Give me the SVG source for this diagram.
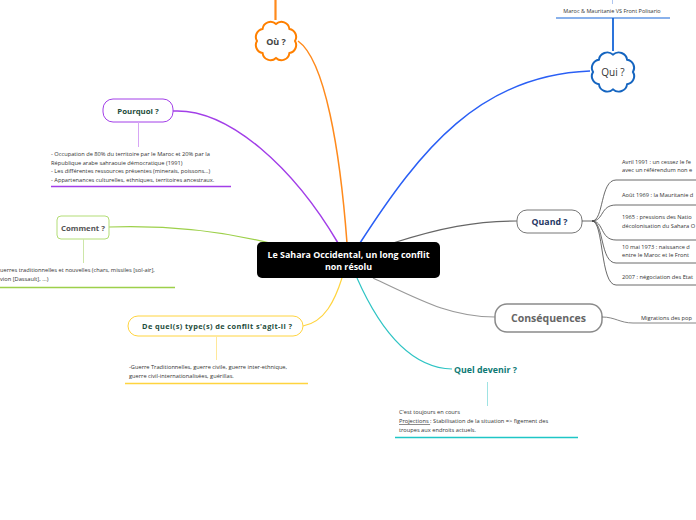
<svg xmlns="http://www.w3.org/2000/svg" width="696" height="520" viewBox="0 0 696 520">
<defs>
<style>
text{font-family:"Open Sans","Noto Sans","Liberation Sans",sans-serif}
.note{font-size:5.7px;fill:#333}
.lbl{font-weight:bold;text-anchor:middle}
.conn{fill:none}
.box{fill:#fff}
</style>
<path id="cloud" d="M19,0 A8,8 0 0 1 13.4,12 A8,8 0 0 1 0,17 A8,8 0 0 1 -13.4,12 A8,8 0 0 1 -19,0 A8,8 0 0 1 -13.4,-12 A8,8 0 0 1 0,-17 A8,8 0 0 1 13.4,-12 A8,8 0 0 1 19,0 Z"/>
</defs>
<rect width="696" height="520" fill="#fff"/>

<g id="connectors" class="conn">
<path d="M298,41 C325,60 340,150 347,243" stroke="#ff8a1c" stroke-width="1.5"/>
<path d="M360,243 C420,150 480,75 590,71" stroke="#2a5ff5" stroke-width="1.5"/>
<path d="M173,111 C230,108 295,170 338,243" stroke="#a23ee8" stroke-width="1.5"/>
<path d="M109,227 C170,225 225,232 270,243" stroke="#9dd04a" stroke-width="1.2"/>
<path d="M303,326 C325,322 335,300 342,278" stroke="#ffd43f" stroke-width="1.2"/>
<path d="M357,278 C380,330 410,368 452,369" stroke="#2ec4c4" stroke-width="1.2"/>
<path d="M393,243 C440,228 475,221 517,221" stroke="#666" stroke-width="1.2"/>
<path d="M373,278 C420,300 450,317 495,317" stroke="#999" stroke-width="1.2"/>
</g>

<g id="center">
<rect x="257" y="242" width="183" height="36" rx="5" fill="#000"/>
<text class="lbl" x="348.5" y="258" font-size="8.9" fill="#fff">Le Sahara Occidental, un long conflit</text>
<text class="lbl" x="348.5" y="270" font-size="8.9" fill="#fff">non résolu</text>
</g>

<g id="ou">
<line x1="275.5" y1="0" x2="275.5" y2="20" stroke="#ff8a1c" stroke-width="2.2"/>
<use href="#cloud" transform="translate(276,41)" fill="#fff" stroke="#ff8000" stroke-width="2"/>
<text class="lbl" x="276" y="45" font-size="9" fill="#444">Où ?</text>
</g>

<g id="qui">
<line x1="612.5" y1="0" x2="612.5" y2="4" stroke="#9ab8ee" stroke-width="0.8"/>
<text x="612" y="13" font-size="5.5" fill="#333" text-anchor="middle">Maroc &amp; Mauritanie VS Front Polisario</text>
<line x1="556" y1="18" x2="670" y2="18" stroke="#1565d8" stroke-width="1.2"/>
<line x1="613" y1="18" x2="613" y2="51" stroke="#1565d8" stroke-width="1.8"/>
<use href="#cloud" transform="translate(613,72) scale(1.05,1.02)" fill="#fff" stroke="#1565c0" stroke-width="1.9"/>
<text x="613" y="76" font-size="10" fill="#333" text-anchor="middle">Qui ?</text>
</g>

<g id="pourquoi">
<rect x="103" y="99" width="70" height="23" rx="10" class="box" stroke="#a23ee8" stroke-width="1"/>
<text class="lbl" x="138" y="114" font-size="7.8" fill="#1e4d3c">Pourquoi ?</text>
<line x1="138.5" y1="122" x2="138.5" y2="147" stroke="#d7a6f5" stroke-width="1"/>
<text class="note" x="51" y="156">- Occupation de 80% du territoire par le Maroc et 20% par la</text>
<text class="note" x="51" y="165">République arabe sahraouie démocratique (1991)</text>
<text class="note" x="51" y="173">- Les différentes ressources présentes (minerais, poissons...)</text>
<text class="note" x="51" y="182">- Appartenances culturelles, ethniques, territoires ancestraux.</text>
<line x1="51" y1="186.5" x2="231" y2="186.5" stroke="#a23ee8" stroke-width="1.3"/>
</g>

<g id="comment">
<rect x="57" y="216" width="52" height="23" rx="4" class="box" stroke="#b3dd76" stroke-width="1"/>
<text class="lbl" x="83" y="231" font-size="7.8" fill="#555">Comment ?</text>
<line x1="83.5" y1="239" x2="83.5" y2="263" stroke="#cde6a8" stroke-width="1"/>
<text class="note" x="0" y="272">uerres traditionnelles et nouvelles (chars, missiles [sol-air],</text>
<text class="note" x="0" y="281">vion [Dassault], ...)</text>
<line x1="0" y1="287.5" x2="175" y2="287.5" stroke="#9dd04a" stroke-width="1.3"/>
</g>

<g id="type">
<rect x="128" y="316" width="175" height="20" rx="10" class="box" stroke="#ffd43f" stroke-width="1"/>
<text class="lbl" x="217" y="329" font-size="7.4" fill="#1e4d3c" textLength="150" lengthAdjust="spacing">De quel(s) type(s) de conflit s'agit-il ?</text>
<line x1="216.5" y1="336" x2="216.5" y2="360" stroke="#ffe89a" stroke-width="1"/>
<text class="note" x="129" y="369">-Guerre Traditionnelles, guerre civile, guerre inter-ethnique,</text>
<text class="note" x="129" y="378">guerre civil-internationalisées, guérillas.</text>
<line x1="125" y1="383.5" x2="308" y2="383.5" stroke="#ffd43f" stroke-width="1.3"/>
</g>

<g id="devenir">
<text x="454" y="373" font-size="8.8" font-weight="bold" fill="#0d7a75">Quel devenir ?</text>
<line x1="487.5" y1="382" x2="487.5" y2="406" stroke="#9fe3e3" stroke-width="1"/>
<text class="note" x="399" y="414">C'est toujours en cours</text>
<text class="note" x="399" y="423"><tspan text-decoration="underline">Projections </tspan>: Stabilisation de la situation =&gt; figement des</text>
<text class="note" x="399" y="432">troupes aux endroits actuels.</text>
<line x1="395" y1="437.5" x2="578" y2="437.5" stroke="#1fc6c6" stroke-width="1.3"/>
</g>

<g id="quand">
<rect x="517" y="210" width="65" height="23" rx="10" class="box" stroke="#777" stroke-width="1"/>
<text class="lbl" x="549.5" y="225" font-size="8.8" fill="#1f3864">Quand ?</text>
<g class="conn" stroke="#444" stroke-width="0.8">
<path d="M582,221 L592,221"/>
<path d="M592,221 C604,221 600,180 616,180 L696,180"/>
<path d="M592,221 C604,221 600,205 616,205 L696,205"/>
<path d="M592,221 C604,221 600,240 616,240 L696,240"/>
<path d="M592,221 C604,221 600,263 616,263 L696,263"/>
<path d="M592,221 C604,221 600,285 616,285 L696,285"/>
</g>
<text class="note" x="622" y="164">Avril 1991 : un cessez le fe</text>
<text class="note" x="622" y="172">avec un référendum non e</text>
<text class="note" x="622" y="197">Août 1969 : la Mauritanie d</text>
<text class="note" x="622" y="219">1965 : pressions des Natio</text>
<text class="note" x="622" y="228">décolonisation du Sahara O</text>
<text class="note" x="622" y="249">10 mai 1973 : naissance d</text>
<text class="note" x="622" y="257">entre le Maroc et le Front</text>
<text class="note" x="622" y="279">2007 : négociation des Etat</text>
</g>

<g id="consequences">
<rect x="495" y="304" width="107" height="28" rx="12" class="box" stroke="#8a8a8a" stroke-width="1.5"/>
<text class="lbl" x="548.5" y="322" font-size="10.5" fill="#666">Conséquences</text>
<path class="conn" d="M602,317 C615,317 620,323 633,323 L696,323" stroke="#666" stroke-width="0.8"/>
<text class="note" x="641" y="320">Migrations des pop</text>
</g>
</svg>
